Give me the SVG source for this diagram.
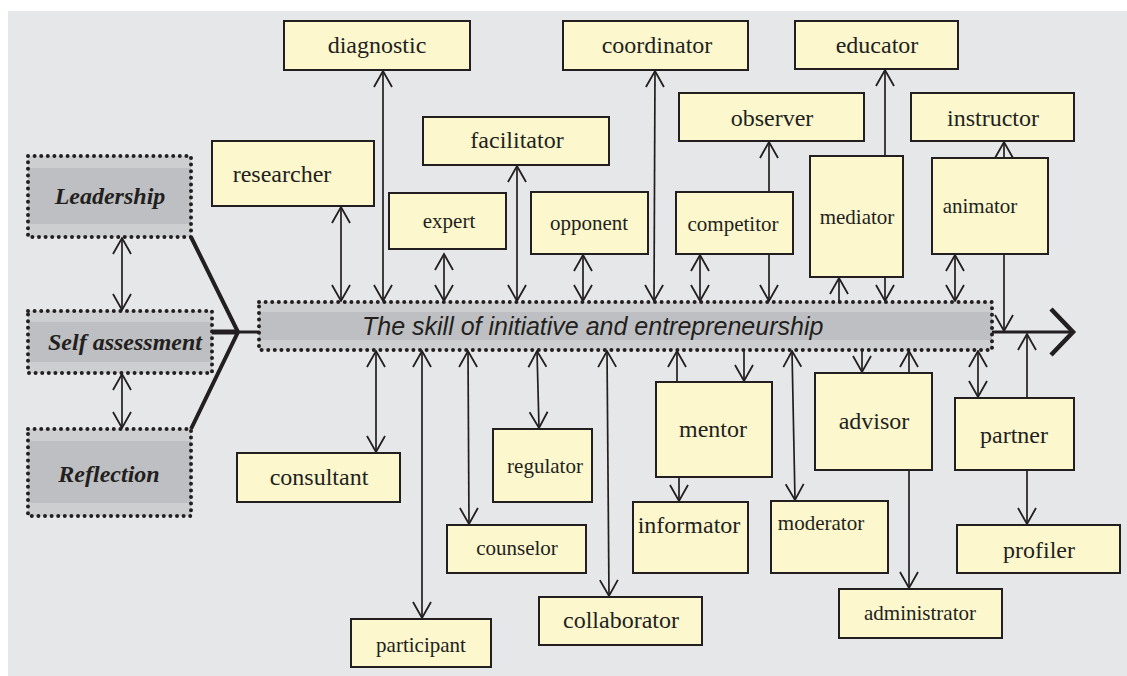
<svg xmlns="http://www.w3.org/2000/svg" width="1127" height="676" viewBox="0 0 1127 676">
<defs>
<style>
.box{fill:#fcf7cd;stroke:#231f20;stroke-width:2}
.t{font-family:"Liberation Serif","Times New Roman",serif;fill:#231f20;text-anchor:middle}
.t24{font-size:24px}
.t21{font-size:21px}
.bi{font-family:"Liberation Serif","Times New Roman",serif;font-weight:bold;font-style:italic;font-size:24px;fill:#231f20;text-anchor:middle}
.outer{fill:#cdced0}
.band{fill:#bebfc2}
.dots{fill:none;stroke:#231f20;stroke-width:4;stroke-linecap:round;stroke-dasharray:0 6.6}
.c{fill:none;stroke:#231f20;stroke-width:1.7}
.thick{fill:none;stroke:#231f20;stroke-width:4}
</style>
<marker id="ah" viewBox="-18 -11 20 22" refX="0" refY="0" markerWidth="20" markerHeight="22" markerUnits="userSpaceOnUse" orient="auto-start-reverse">
<path d="M-16,-9 L0,0 L-16,9" fill="none" stroke="#231f20" stroke-width="1.8"/>
</marker>
</defs>
<rect x="8" y="11" width="1119" height="665" fill="#e6e7e9"/>

<g id="connectors">
<path class="thick" d="M191,237 L238,332 L191,429"/>
<path d="M212,332 L238,332" stroke="#231f20" stroke-width="5" fill="none"/>
<path d="M238,332 L259,332" stroke="#231f20" stroke-width="3" fill="none"/>
<path d="M992,332 L1073,332" stroke="#231f20" stroke-width="3" fill="none"/>
<path d="M1051,309 L1073,332 L1051,355" stroke="#231f20" stroke-width="4.5" fill="none"/>
<line class="c" x1="122" y1="238" x2="122" y2="310" marker-start="url(#ah)" marker-end="url(#ah)"/>
<line class="c" x1="122" y1="374" x2="122" y2="428" marker-start="url(#ah)" marker-end="url(#ah)"/>
<line class="c" x1="383" y1="71" x2="383" y2="301" marker-start="url(#ah)" marker-end="url(#ah)"/>
<line class="c" x1="341" y1="207" x2="341" y2="301" marker-start="url(#ah)" marker-end="url(#ah)"/>
<line class="c" x1="444" y1="254" x2="444" y2="301" marker-start="url(#ah)" marker-end="url(#ah)"/>
<line class="c" x1="517" y1="166" x2="517" y2="301" marker-start="url(#ah)" marker-end="url(#ah)"/>
<line class="c" x1="583" y1="255" x2="583" y2="301" marker-start="url(#ah)" marker-end="url(#ah)"/>
<line class="c" x1="655" y1="71" x2="654" y2="301" marker-start="url(#ah)" marker-end="url(#ah)"/>
<line class="c" x1="700" y1="255" x2="700" y2="301" marker-start="url(#ah)" marker-end="url(#ah)"/>
<line class="c" x1="769" y1="255" x2="769" y2="301" marker-end="url(#ah)"/>
<line class="c" x1="769" y1="192" x2="769" y2="142" marker-end="url(#ah)"/>
<line class="c" x1="839" y1="301" x2="839" y2="278" marker-end="url(#ah)"/>
<line class="c" x1="885" y1="278" x2="885" y2="301" marker-end="url(#ah)"/>
<line class="c" x1="885" y1="156" x2="885" y2="70" marker-end="url(#ah)"/>
<line class="c" x1="1004" y1="158" x2="1004" y2="142" marker-end="url(#ah)"/>
<line class="c" x1="955" y1="255" x2="955" y2="301" marker-start="url(#ah)" marker-end="url(#ah)"/>
<line class="c" x1="1004" y1="255" x2="1004" y2="331" marker-end="url(#ah)"/>
<line class="c" x1="376" y1="351" x2="376" y2="452" marker-start="url(#ah)" marker-end="url(#ah)"/>
<line class="c" x1="422" y1="351" x2="422" y2="618" marker-start="url(#ah)" marker-end="url(#ah)"/>
<line class="c" x1="468" y1="351" x2="469" y2="524" marker-start="url(#ah)" marker-end="url(#ah)"/>
<line class="c" x1="537" y1="351" x2="539" y2="428" marker-start="url(#ah)" marker-end="url(#ah)"/>
<line class="c" x1="607" y1="351" x2="609" y2="596" marker-start="url(#ah)" marker-end="url(#ah)"/>
<line class="c" x1="677" y1="382" x2="677" y2="351" marker-end="url(#ah)"/>
<line class="c" x1="744" y1="351" x2="744" y2="381" marker-end="url(#ah)"/>
<line class="c" x1="679" y1="478" x2="679" y2="501" marker-end="url(#ah)"/>
<line class="c" x1="792" y1="351" x2="795" y2="500" marker-start="url(#ah)" marker-end="url(#ah)"/>
<line class="c" x1="862" y1="351" x2="862" y2="372" marker-end="url(#ah)"/>
<line class="c" x1="909" y1="373" x2="909" y2="351" marker-end="url(#ah)"/>
<line class="c" x1="909" y1="471" x2="909" y2="588" marker-end="url(#ah)"/>
<line class="c" x1="978" y1="351" x2="978" y2="397" marker-start="url(#ah)" marker-end="url(#ah)"/>
<line class="c" x1="1027" y1="398" x2="1027" y2="334" marker-end="url(#ah)"/>
<line class="c" x1="1027" y1="471" x2="1027" y2="524" marker-end="url(#ah)"/>
</g>

<g id="leadership">
<rect class="outer" x="28" y="156" width="163" height="81"/>
<rect class="band" x="28" y="168" width="163" height="56"/>
<rect class="dots" x="28" y="156" width="163" height="81"/>
<text class="bi" x="110" y="204">Leadership</text>
</g>
<g id="self-assessment">
<rect class="outer" x="28" y="311" width="184" height="62"/>
<rect class="band" x="28" y="322" width="184" height="40"/>
<rect class="dots" x="28" y="311" width="184" height="62"/>
<text class="bi" x="125" y="350">Self assessment</text>
</g>
<g id="reflection">
<rect class="outer" x="28" y="429" width="163" height="87"/>
<rect class="band" x="28" y="441" width="163" height="62"/>
<rect class="dots" x="28" y="429" width="163" height="87"/>
<text class="bi" x="109" y="482">Reflection</text>
</g>
<g id="skill">
<rect class="outer" x="259" y="302" width="733" height="48"/>
<rect class="band" x="259" y="312" width="733" height="28"/>
<rect class="dots" x="259" y="302" width="733" height="48"/>
<text x="362" y="335" font-family="'Liberation Sans',Arial,sans-serif" font-style="italic" font-size="25" fill="#231f20">The skill of initiative and entrepreneurship</text>
</g>

<g id="diagnostic"><rect class="box" x="284" y="21" width="186" height="49"/><text class="t t24" x="377" y="53">diagnostic</text></g>
<g id="researcher"><rect class="box" x="212" y="141" width="162" height="65"/><text class="t t24" x="282" y="182">researcher</text></g>
<g id="coordinator"><rect class="box" x="563" y="21" width="185" height="49"/><text class="t t24" x="657" y="53">coordinator</text></g>
<g id="facilitator"><rect class="box" x="423" y="117" width="186" height="48"/><text class="t t24" x="517" y="148">facilitator</text></g>
<g id="expert"><rect class="box" x="389" y="193" width="117" height="56"/><text class="t t21" x="449" y="228">expert</text></g>
<g id="opponent"><rect class="box" x="531" y="192" width="117" height="62"/><text class="t t21" x="589" y="230">opponent</text></g>
<g id="competitor"><rect class="box" x="676" y="192" width="117" height="62"/><text class="t t21" x="733" y="231">competitor</text></g>
<g id="observer"><rect class="box" x="679" y="93" width="185" height="48"/><text class="t t24" x="772" y="126">observer</text></g>
<g id="educator"><rect class="box" x="795" y="21" width="163" height="48"/><text class="t t24" x="877" y="53">educator</text></g>
<g id="instructor"><rect class="box" x="911" y="93" width="163" height="48"/><text class="t t24" x="993" y="126">instructor</text></g>
<g id="mediator"><rect class="box" x="810" y="156" width="93" height="121"/><text class="t t21" x="857" y="224">mediator</text></g>
<g id="animator"><rect class="box" x="932" y="158" width="116" height="96"/><text class="t t21" x="980" y="213">animator</text></g>

<g id="consultant"><rect class="box" x="237" y="453" width="163" height="49"/><text class="t t24" x="319" y="485">consultant</text></g>
<g id="participant"><rect class="box" x="351" y="619" width="140" height="48"/><text class="t t21" x="421" y="652">participant</text></g>
<g id="counselor"><rect class="box" x="447" y="525" width="139" height="48"/><text class="t t21" x="517" y="555">counselor</text></g>
<g id="regulator"><rect class="box" x="493" y="429" width="99" height="73"/><text class="t t21" x="545" y="473">regulator</text></g>
<g id="collaborator"><rect class="box" x="539" y="597" width="163" height="48"/><text class="t t24" x="621" y="628">collaborator</text></g>
<g id="mentor"><rect class="box" x="656" y="382" width="116" height="95"/><text class="t t24" x="713" y="437">mentor</text></g>
<g id="informator"><rect class="box" x="633" y="502" width="115" height="71"/><text class="t t24" x="689" y="533">informator</text></g>
<g id="moderator"><rect class="box" x="771" y="501" width="117" height="72"/><text class="t t21" x="821" y="530">moderator</text></g>
<g id="advisor"><rect class="box" x="815" y="373" width="117" height="97"/><text class="t t24" x="874" y="429">advisor</text></g>
<g id="administrator"><rect class="box" x="839" y="589" width="163" height="49"/><text class="t t21" x="920" y="620">administrator</text></g>
<g id="partner"><rect class="box" x="955" y="398" width="119" height="72"/><text class="t t24" x="1014" y="443">partner</text></g>
<g id="profiler"><rect class="box" x="957" y="525" width="163" height="48"/><text class="t t24" x="1039" y="558">profiler</text></g>
</svg>
